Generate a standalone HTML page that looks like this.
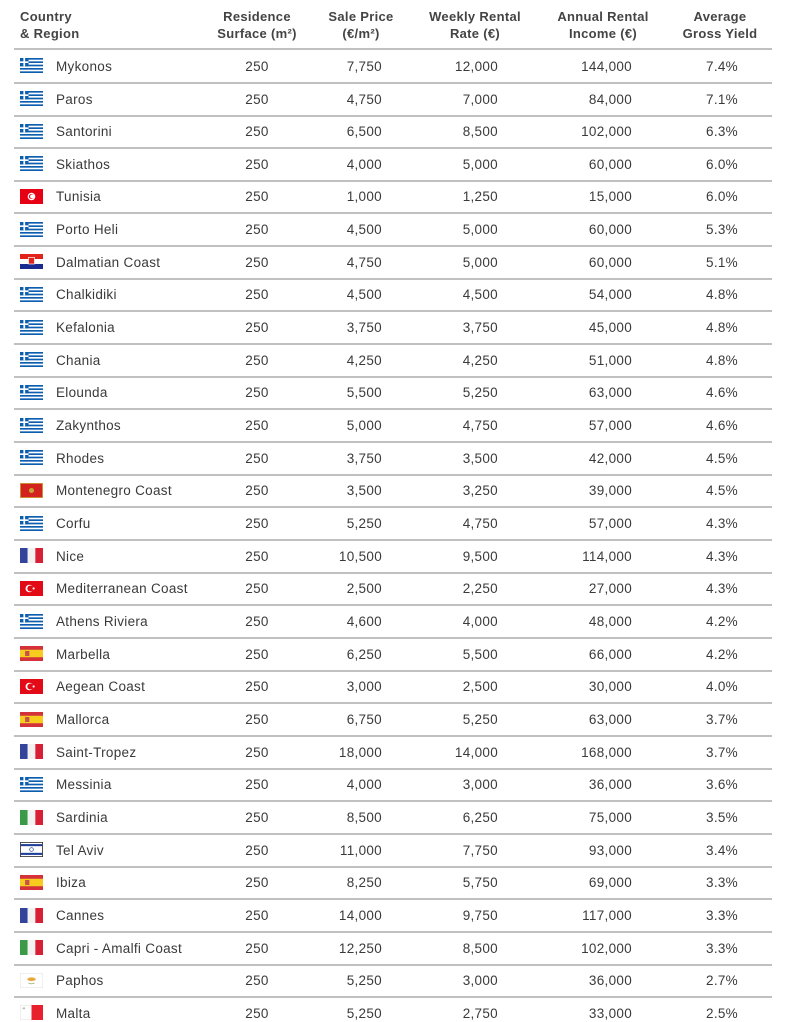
<!DOCTYPE html>
<html><head><meta charset="utf-8"><style>
html,body{margin:0;padding:0;background:#fff;}
body{width:787px;height:1022px;position:relative;overflow:hidden;font-family:"Liberation Sans",sans-serif;color:#3a3a3a;}
.h{position:absolute;font-weight:bold;font-size:13px;line-height:17px;color:#444;letter-spacing:0.3px}
.line{position:absolute;left:14px;width:758px;height:2px;background:#c0c0c0}
.t{position:absolute;font-size:13.5px;line-height:16px;letter-spacing:0.3px}
.f{position:absolute;left:20px;width:23px;height:15px}
</style></head><body>
<svg width="0" height="0" style="position:absolute">
<defs>
<symbol id="gr" viewBox="0 0 27 18"><rect width="27" height="18" fill="#fff"/><g fill="#0d5eaf"><rect y="0" width="27" height="2"/><rect y="4" width="27" height="2"/><rect y="8" width="27" height="2"/><rect y="12" width="27" height="2"/><rect y="16" width="27" height="2"/><rect width="10" height="10"/></g><rect x="4" width="2" height="10" fill="#fff"/><rect y="4" width="10" height="2" fill="#fff"/></symbol>
<symbol id="tn" viewBox="0 0 27 18"><rect width="27" height="18" fill="#e70013"/><circle cx="13.5" cy="9" r="4.5" fill="#fff"/><circle cx="13.5" cy="9" r="3" fill="#e70013"/><circle cx="14.3" cy="9" r="2.4" fill="#fff"/></symbol>
<symbol id="hr" viewBox="0 0 27 18"><rect width="27" height="6" fill="#e2231a"/><rect y="6" width="27" height="6" fill="#fff"/><rect y="12" width="27" height="6" fill="#1b2a8f"/><rect x="10" y="4" width="7" height="8" fill="#e2231a" stroke="#fff" stroke-width="0.8"/></symbol>
<symbol id="me" viewBox="0 0 27 18"><rect width="27" height="18" fill="#c8a437"/><rect x="1" y="1" width="25" height="16" fill="#d3231f"/><circle cx="13.5" cy="9" r="3" fill="#c8a437"/></symbol>
<symbol id="fr" viewBox="0 0 27 18"><rect width="9" height="18" fill="#34449a"/><rect x="9" width="9" height="18" fill="#f2f2f2"/><rect x="18" width="9" height="18" fill="#d91f35"/></symbol>
<symbol id="it" viewBox="0 0 27 18"><rect width="9" height="18" fill="#3b9a48"/><rect x="9" width="9" height="18" fill="#f2f2f2"/><rect x="18" width="9" height="18" fill="#d91f35"/></symbol>
<symbol id="tr" viewBox="0 0 27 18"><rect width="27" height="18" fill="#e30a17"/><circle cx="11" cy="9" r="4.5" fill="#fff"/><circle cx="12.2" cy="9" r="3.6" fill="#e30a17"/><circle cx="16" cy="9" r="1.3" fill="#fff"/></symbol>
<symbol id="es" viewBox="0 0 27 18"><rect width="27" height="18" fill="#d4313a"/><rect y="4.5" width="27" height="9" fill="#f6cc1e"/><rect x="6" y="6" width="5" height="6" fill="#c4514a"/></symbol>
<symbol id="il" viewBox="0 0 27 18"><rect width="27" height="18" fill="#333"/><rect x="1" y="1" width="25" height="16" fill="#fff"/><rect x="1" y="2.5" width="25" height="2.5" fill="#1f3f99"/><rect x="1" y="13" width="25" height="2.5" fill="#1f3f99"/><circle cx="13.5" cy="9" r="2.2" fill="none" stroke="#1f3f99" stroke-width="0.8"/></symbol>
<symbol id="cy" viewBox="0 0 27 18"><rect width="27" height="18" fill="#ddd"/><rect x="0.5" y="0.5" width="26" height="17" fill="#fff"/><ellipse cx="13.5" cy="7.5" rx="5" ry="2.2" fill="#e8a73a"/><path d="M10 12 q3.5 2 7 0" stroke="#9bb36a" fill="none" stroke-width="1"/></symbol>
<symbol id="mt" viewBox="0 0 27 18"><rect width="27" height="18" fill="#ddd"/><rect x="0.5" y="0.5" width="13" height="17" fill="#fff"/><rect x="13.5" width="13.5" height="18" fill="#e8202e"/><rect x="3" y="3" width="3" height="2" fill="#bbb"/></symbol>
</defs></svg>

<div class="h" style="left:20px;top:8px">Country<br>&amp; Region</div>
<div class="h" style="left:207px;width:100px;top:8px;text-align:center">Residence<br>Surface (m²)</div>
<div class="h" style="left:311px;width:100px;top:8px;text-align:center">Sale Price<br>(€/m²)</div>
<div class="h" style="left:415px;width:120px;top:8px;text-align:center">Weekly Rental<br>Rate (€)</div>
<div class="h" style="left:543px;width:120px;top:8px;text-align:center">Annual Rental<br>Income (€)</div>
<div class="h" style="left:670px;width:100px;top:8px;text-align:center">Average<br>Gross Yield</div>
<div class="line" style="top:48px"></div>

<div id="rows"></div>
<script>
var d=[["gr","Mykonos","7,750","12,000","144,000","7.4%"],["gr","Paros","4,750","7,000","84,000","7.1%"],["gr","Santorini","6,500","8,500","102,000","6.3%"],["gr","Skiathos","4,000","5,000","60,000","6.0%"],["tn","Tunisia","1,000","1,250","15,000","6.0%"],["gr","Porto Heli","4,500","5,000","60,000","5.3%"],["hr","Dalmatian Coast","4,750","5,000","60,000","5.1%"],["gr","Chalkidiki","4,500","4,500","54,000","4.8%"],["gr","Kefalonia","3,750","3,750","45,000","4.8%"],["gr","Chania","4,250","4,250","51,000","4.8%"],["gr","Elounda","5,500","5,250","63,000","4.6%"],["gr","Zakynthos","5,000","4,750","57,000","4.6%"],["gr","Rhodes","3,750","3,500","42,000","4.5%"],["me","Montenegro Coast","3,500","3,250","39,000","4.5%"],["gr","Corfu","5,250","4,750","57,000","4.3%"],["fr","Nice","10,500","9,500","114,000","4.3%"],["tr","Mediterranean Coast","2,500","2,250","27,000","4.3%"],["gr","Athens Riviera","4,600","4,000","48,000","4.2%"],["es","Marbella","6,250","5,500","66,000","4.2%"],["tr","Aegean Coast","3,000","2,500","30,000","4.0%"],["es","Mallorca","6,750","5,250","63,000","3.7%"],["fr","Saint-Tropez","18,000","14,000","168,000","3.7%"],["gr","Messinia","4,000","3,000","36,000","3.6%"],["it","Sardinia","8,500","6,250","75,000","3.5%"],["il","Tel Aviv","11,000","7,750","93,000","3.4%"],["es","Ibiza","8,250","5,750","69,000","3.3%"],["fr","Cannes","14,000","9,750","117,000","3.3%"],["it","Capri - Amalfi Coast","12,250","8,500","102,000","3.3%"],["cy","Paphos","5,250","3,000","36,000","2.7%"],["mt","Malta","5,250","2,750","33,000","2.5%"]];
var h="";
for(var i=0;i<d.length;i++){var r=d[i];var c=66.3+i*32.66;var ty=(c-7.5).toFixed(1);
h+='<svg class="f" style="top:'+(c-8).toFixed(1)+'px" viewBox="0 0 27 18" preserveAspectRatio="none"><use href="#'+r[0]+'"/></svg>';
h+='<div class="t" style="left:56px;top:'+ty+'px">'+r[1]+'</div>';
h+='<div class="t" style="left:227px;width:60px;text-align:center;top:'+ty+'px">250</div>';
h+='<div class="t" style="left:300px;width:82px;text-align:right;top:'+ty+'px">'+r[2]+'</div>';
h+='<div class="t" style="left:410px;width:88px;text-align:right;top:'+ty+'px">'+r[3]+'</div>';
h+='<div class="t" style="left:540px;width:92px;text-align:right;top:'+ty+'px">'+r[4]+'</div>';
h+='<div class="t" style="left:680px;width:58px;text-align:right;top:'+ty+'px">'+r[5]+'</div>';
if(i<d.length-1)h+='<div class="line" style="top:'+(c+15.5).toFixed(1)+'px"></div>';}
document.getElementById("rows").innerHTML=h;
</script>
</body></html>
